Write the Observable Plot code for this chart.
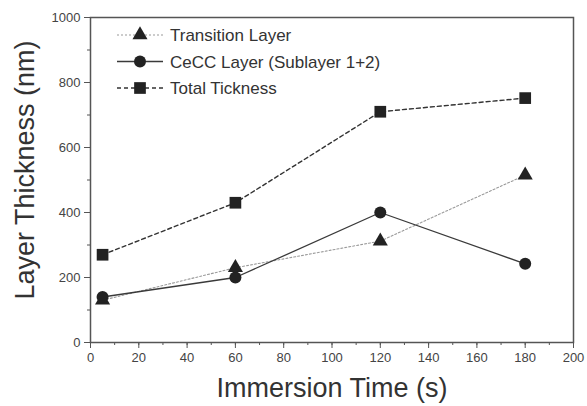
<!DOCTYPE html>
<html><head><meta charset="utf-8">
<script src="https://cdn.jsdelivr.net/npm/d3@7"></script>
<script src="https://cdn.jsdelivr.net/npm/@observablehq/plot@0.6"></script>
<style>
body{margin:0;background:#fff;}
#wrap{position:relative;width:587px;height:406px;font-family:"Liberation Sans",Arial,sans-serif;}
#wrap svg{position:absolute;left:0;top:0;}
</style></head>
<body><div id="wrap"></div>
<script>
const times = [5, 60, 120, 180];
const transitionLayer = [130, 230, 312, 515];
const ceccLayer = [140, 200, 400, 242];
const totalThickness = [270, 430, 710, 752];
const seriesNames = ["Transition Layer", "CeCC Layer (Sublayer 1+2)", "Total Tickness"];
const xTicks = [0, 20, 40, 60, 80, 100, 120, 140, 160, 180, 200];
const yTicks = [0, 200, 400, 600, 800, 1000];

const styles = {
  "Transition Layer": {stroke: "#9a9a9a", dash: "2,2", width: 1.1, symbol: "triangle", r: 5.6},
  "CeCC Layer (Sublayer 1+2)": {stroke: "#3a3a3a", dash: null, width: 1.3, symbol: "circle", r: 6},
  "Total Tickness": {stroke: "#333", dash: "4,3", width: 1.4, symbol: "square", r: 6.6}
};
const seriesValues = [transitionLayer, ceccLayer, totalThickness];
const data = seriesNames.flatMap((s, i) => times.map((t, j) => ({series: s, t, v: seriesValues[i][j]})));

const marks = [];
for (const s of seriesNames) {
  const st = styles[s];
  const d = data.filter(e => e.series === s);
  marks.push(Plot.line(d, {x: "t", y: "v", stroke: st.stroke, strokeWidth: st.width, strokeDasharray: st.dash}));
}
for (const s of seriesNames) {
  const st = styles[s];
  const d = data.filter(e => e.series === s);
  marks.push(Plot.dot(d, {x: "t", y: "v", symbol: () => st.symbol, r: st.r, fill: "#222", stroke: "none"}));
}

const minorX = d3.range(0, 201, 10);
const minorY = d3.range(0, 1001, 100);

const chart = Plot.plot({
  width: 587, height: 406,
  marginLeft: 90, marginRight: 14, marginTop: 17, marginBottom: 64,
  style: {fontFamily: "Liberation Sans, Arial, sans-serif", background: "white"},
  x: {domain: [0, 200]},
  y: {domain: [0, 1000]},
  symbol: {type: "identity"},
  marks: [
    Plot.axisX({ticks: minorX, tickSize: 3, tickFormat: () => "", label: null, stroke: "#555"}),
    Plot.axisY({ticks: minorY, tickSize: 3, tickFormat: () => "", label: null, stroke: "#555"}),
    Plot.axisX({ticks: xTicks, tickSize: 6, tickPadding: 4, fontSize: 13, fill: "#444", stroke: "#555", label: null, tickFormat: d => String(d)}),
    Plot.axisY({ticks: yTicks, tickSize: 6, tickPadding: 4, fontSize: 13, fill: "#444", stroke: "#555", label: null, tickFormat: d => String(d)}),
    Plot.frame({stroke: "#555", strokeWidth: 1.5}),
    ...marks,
    Plot.text(["Immersion Time (s)"], {frameAnchor: "bottom", dy: 46, fontSize: 27, fill: "#333", lineAnchor: "middle", textAnchor: "middle"}),
    Plot.text(["Layer Thickness (nm)"], {frameAnchor: "left", dx: -65, dy: -10, rotate: -90, fontSize: 27, fill: "#333", lineAnchor: "middle", textAnchor: "middle"})
  ]
});
document.getElementById("wrap").appendChild(chart);

// legend overlay
const leg = d3.select("#wrap").append("svg").attr("width", 587).attr("height", 406).style("pointer-events", "none");
seriesNames.forEach((s, i) => {
  const st = styles[s];
  const y = 35 + i * 26.5;
  leg.append("line").attr("x1", 117).attr("x2", 163).attr("y1", y).attr("y2", y)
    .attr("stroke", st.stroke).attr("stroke-width", st.width).attr("stroke-dasharray", st.dash);
  const sym = {triangle: d3.symbolTriangle, circle: d3.symbolCircle, square: d3.symbolSquare}[st.symbol];
  leg.append("path").attr("d", d3.symbol(sym, Math.PI * st.r * st.r)()).attr("transform", `translate(140,${y})`).attr("fill", "#222");
  leg.append("text").attr("x", 170).attr("y", y).attr("dy", "0.36em").attr("font-size", 17)
    .attr("fill", "#333").attr("font-family", "Liberation Sans, Arial, sans-serif").text(s);
});
</script></body></html>
